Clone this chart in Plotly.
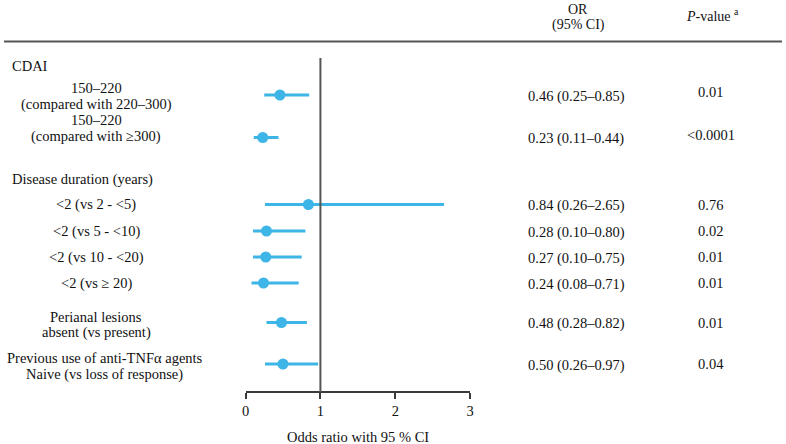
import plotly.graph_objects as go

# ---- data ----
row_labels = [
    "150–220<br>(compared with 220–300)",
    "150–220<br>(compared with ≥300)",
    "<2 (vs 2 - <5)",
    "<2 (vs 5 - <10)",
    "<2 (vs 10 - <20)",
    "<2 (vs ≥ 20)",
    "Perianal lesions<br>absent (vs present)",
    "Previous use of anti-TNFα agents<br>Naive (vs loss of response)",
]
odds_ratio = [0.46, 0.23, 0.84, 0.28, 0.27, 0.24, 0.48, 0.50]
ci_low = [0.25, 0.11, 0.26, 0.10, 0.10, 0.08, 0.28, 0.26]
ci_high = [0.85, 0.44, 2.65, 0.80, 0.75, 0.71, 0.82, 0.97]
p_values = ["0.01", "<0.0001", "0.76", "0.02", "0.01", "0.01", "0.01", "0.04"]
group_labels = ["CDAI", "Disease duration (years)"]
x_ticks = [0, 1, 2, 3]

# ---- layout (pixel rows from top of the 444px canvas) ----
W, H = 786, 444
row_pos = [95, 137.5, 204.5, 231, 257, 283, 322.5, 364]
# y of each text line of the left labels
label_line_pos = [[88, 104], [120, 136], [204], [231], [257], [283],
                  [317, 332.5], [358, 374]]
label_x = [93, 93, 93, 93, 93, 93, 93, 102]
group_pos = [66, 179]
AX_TOP, AX_BOT = 58, 392

BLUE = "#3db5e6"
DARK = "#3a3a3a"
FONT = "Liberation Serif"
FS = 14.5

fig = go.Figure()

# CI lines
for i in range(len(odds_ratio)):
    fig.add_trace(go.Scatter(
        x=[ci_low[i], ci_high[i]], y=[row_pos[i], row_pos[i]],
        mode="lines", line=dict(color=BLUE, width=3),
        hoverinfo="skip", showlegend=False))

# point estimates
fig.add_trace(go.Scatter(
    x=odds_ratio, y=row_pos, mode="markers",
    marker=dict(color=BLUE, size=11),
    showlegend=False))

anns = []


def txt(x, y, text, anchor="center", yref="y", size=FS):
    anns.append(dict(x=x / W, y=y, xref="paper", yref=yref, text=text,
                     showarrow=False, xanchor=anchor, yanchor="middle",
                     font=dict(size=size, color="#111", family=FONT)))


# left labels, one annotation per text line
for lab, ys, lx in zip(row_labels, label_line_pos, label_x):
    for line, y in zip(lab.split("<br>"), ys):
        txt(lx, y, line)
for lab, y in zip(group_labels, group_pos):
    txt(6, y, lab, anchor="left")
# right columns
for i in range(len(odds_ratio)):
    s = f"{odds_ratio[i]:.2f} ({ci_low[i]:.2f}–{ci_high[i]:.2f})"
    txt(578, row_pos[i] + 1, s)
    dy = -3 if i < 2 else 0
    txt(714, row_pos[i] + dy, p_values[i])
# headers
txt(580, 9, "OR", size=14)
txt(580, 25, "(95% CI)", size=14)
txt(716, 15, "<i>P</i>-value <sup>a</sup>", size=14)
# axis title
txt((244 + 471) / 2, 437, "Odds ratio with 95 % CI")

shapes = [
    dict(type="line", xref="paper", yref="y", x0=0, x1=1,
         y0=41.5, y1=41.5, line=dict(color="#555", width=2)),
    dict(type="line", xref="x", yref="y", x0=1, x1=1, y0=AX_TOP, y1=AX_BOT,
         line=dict(color="#555", width=2)),
]

fig.update_layout(
    width=W, height=H, margin=dict(l=0, r=0, t=0, b=0),
    paper_bgcolor="white", plot_bgcolor="white",
    annotations=anns, shapes=shapes,
    xaxis=dict(domain=[244 / W, 471 / W], range=[0, 3], tickvals=x_ticks,
               showgrid=False, zeroline=False, showline=True, linecolor=DARK,
               linewidth=2, ticks="outside", ticklen=6, tickwidth=2, tickcolor=DARK,
               tickfont=dict(size=FS, family=FONT, color="#111"),
               anchor="free", position=1 - AX_BOT / H),
    yaxis=dict(domain=[0, 1], range=[H, 0], visible=False, showgrid=False,
               zeroline=False, fixedrange=True),
)

fig.write_html("out.html", config={"displayModeBar": False},
               post_script="document.body.style.margin='0';document.body.style.overflow='hidden';")
